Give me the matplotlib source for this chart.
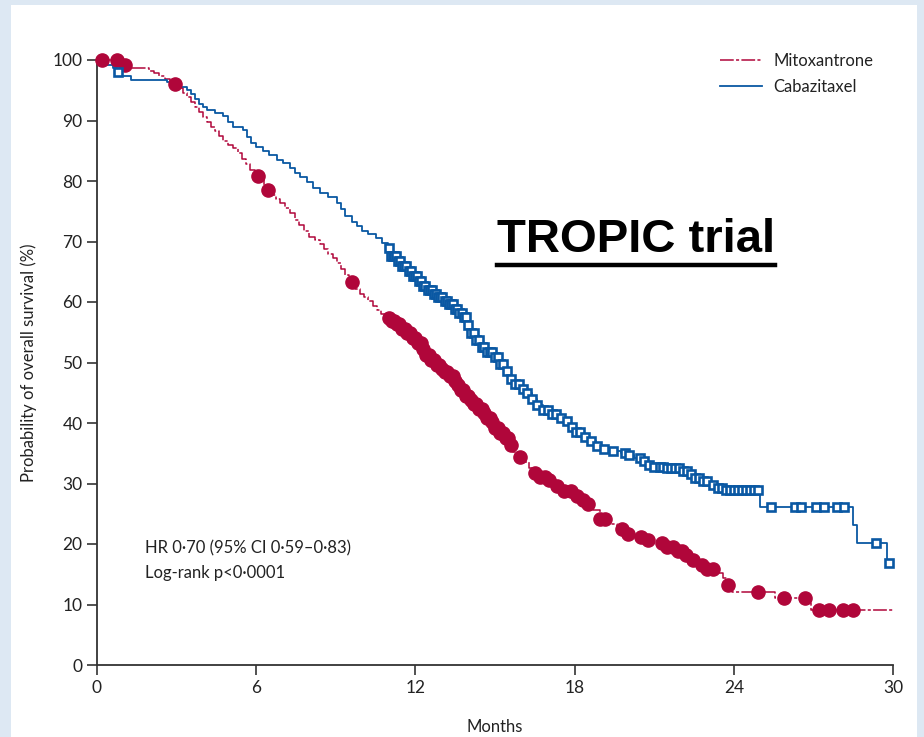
import numpy as np
import matplotlib
matplotlib.use('Agg')
import matplotlib.pyplot as plt
from matplotlib.patches import Rectangle
from matplotlib.lines import Line2D

# Kaplan-Meier steps (months, % surviving)
mito_t = [0, 1.0, 1.1, 1.95, 2.15, 2.35, 2.55, 2.75, 2.9, 3.1, 3.25, 3.4, 3.55, 3.7,
          3.85, 4.0, 4.15, 4.3, 4.45, 4.6, 4.75, 4.95, 5.13, 5.3, 5.45, 5.6, 5.77,
          5.95, 6.1, 6.3, 6.45, 6.6, 6.75, 6.9, 7.1, 7.27, 7.45, 7.6, 7.8, 8.0, 8.2,
          8.4, 8.55, 8.7, 8.9, 9.05, 9.2, 9.35, 9.5, 9.7, 9.9, 10.05, 10.2, 10.4,
          10.55, 10.7, 10.9, 11.05, 11.25, 11.45, 11.65, 11.85, 12.05, 12.25, 12.4,
          12.55, 12.75, 12.95, 13.1, 13.25, 13.42, 13.55, 13.7, 13.9, 14.05, 14.2,
          14.4, 14.55, 14.7, 14.85, 15.0, 15.2, 15.4, 15.55, 15.65, 15.9, 16.1, 16.3,
          16.5, 16.7, 17.0, 17.3, 17.6, 17.9, 18.2, 18.45, 18.7, 18.95, 19.3, 19.6,
          19.85, 20.2, 20.6, 21.0, 21.4, 21.8, 22.1, 22.35, 22.6, 22.95, 23.3, 23.6,
          23.75, 23.95, 25.55, 26.9, 30.0]
mito_s = [100, 99.2, 98.6, 98.2, 97.8, 97.4, 96.9, 96.4, 96.0, 95.3, 94.6, 93.9, 93.0, 92.2,
          91.4, 90.6, 89.8, 89.0, 88.3, 87.5, 86.6, 86.0, 85.4, 84.6, 83.7, 82.8, 81.8,
          80.9, 80.2, 79.2, 78.5, 77.7, 77.0, 76.3, 75.5, 74.7, 73.6, 72.7, 71.7, 70.8, 70.3,
          69.6, 68.8, 68.0, 67.2, 66.4, 65.4, 64.4, 63.3, 62.2, 61.4, 60.8, 60.1, 59.3,
          58.6, 58.0, 57.4, 56.9, 56.3, 55.6, 54.9, 54.1, 53.2, 52.2, 51.2,
          50.4, 49.6, 49.0, 48.4, 47.7, 47.0, 46.2, 45.4, 44.5, 43.8, 43.2,
          42.3, 41.6, 40.9, 40.1, 39.2, 38.3, 37.6, 36.3, 35.2, 34.4, 33.6, 32.6,
          31.8, 31.1, 30.5, 29.6, 28.8, 27.9, 27.3, 26.6, 25.6, 24.2, 23.3, 22.4,
          21.7, 21.1, 20.6, 20.1, 19.5, 18.8, 18.1, 17.3, 16.6, 15.8, 15.2, 14.4,
          13.3, 12.1, 11.0, 9.1, 9.1]

caba_t = [0, 0.35, 0.6, 0.75, 0.87, 1.3, 2.65, 2.8, 3.39, 3.55, 3.7, 3.85, 4.0, 4.15,
          4.45, 4.75, 4.95, 5.13, 5.5, 5.65, 5.8, 6.0, 6.26, 6.5, 6.78, 7.0, 7.27,
          7.45, 7.65, 7.9, 8.15, 8.4, 8.7, 9.05, 9.2, 9.35, 9.6, 9.8, 10.0, 10.2,
          10.5, 10.75, 10.95, 11.05, 11.3, 11.5, 11.7, 11.9, 12.1, 12.3, 12.45, 12.65,
          12.85, 13.05, 13.25, 13.45, 13.65, 13.8, 13.95, 14.1, 14.25, 14.45, 14.7,
          14.95, 15.15, 15.35, 15.55, 15.75, 16.0, 16.2, 16.4, 16.6, 16.8, 17.1,
          17.35, 17.6, 17.85, 18.05, 18.25, 18.5, 18.8, 19.1, 19.45, 19.75, 20.0,
          20.25, 20.5, 20.75, 21.0, 21.5, 22.0, 22.3, 22.55, 22.8, 23.05, 23.35,
          23.6, 24.99, 28.5, 28.65, 29.78, 30.0]
caba_s = [100, 99.2, 98.6, 98.0, 97.3, 96.7, 96.3, 95.6, 95.0, 94.3, 93.6, 92.8, 92.2, 91.7,
          91.2, 90.8, 89.8, 88.9, 88.4, 87.3, 86.3, 85.6, 84.9, 84.3, 83.5, 83.0, 82.2,
          81.4, 80.7, 79.8, 78.9, 78.0, 77.3, 76.4, 75.3, 74.2, 73.3, 72.5, 71.8, 71.2,
          70.5, 69.8, 69.0, 67.6, 66.7, 65.9, 65.2, 64.3, 63.4, 62.6, 62.0, 61.4,
          60.8, 60.2, 59.6, 58.9, 58.2, 57.5, 56.2, 54.9, 53.7, 52.6, 51.8,
          50.9, 49.8, 48.6, 47.3, 46.5, 45.7, 45.0, 44.0, 43.0, 42.2, 41.5,
          40.9, 40.4, 39.4, 38.5, 37.7, 37.0, 36.2, 35.7, 35.4, 35.1, 34.7,
          34.2, 33.8, 33.1, 32.7, 32.5, 32.1, 31.6, 30.9, 30.4, 29.8, 29.2,
          28.9, 26.1, 23.1, 20.2, 16.9, 16.9]

# censoring times
mito_cens = [0.2, 0.75, 1.05, 2.95, 6.05, 6.45, 9.6,
             11.0, 11.1, 11.2, 11.3, 11.4, 11.5, 11.6, 11.7, 11.8, 11.9, 12.0, 12.1,
             12.2, 12.3, 12.4, 12.5, 12.6, 12.7, 12.8, 12.9, 13.0, 13.1, 13.2, 13.3,
             13.4, 13.5, 13.6, 13.7, 13.8, 13.9, 14.0, 14.1, 14.2, 14.3, 14.4, 14.5,
             14.6, 14.7, 14.8, 14.9, 15.0, 15.1, 15.2, 15.3, 15.4, 15.5, 15.6,
             15.95, 16.5, 16.7, 16.9, 17.05, 17.35, 17.6, 17.85, 18.1, 18.3, 18.5,
             18.95, 19.15, 19.8, 20.0, 20.5, 20.75, 21.3, 21.5, 21.7, 21.9, 22.05,
             22.2, 22.45, 22.8, 23.0, 23.2, 23.8, 24.9, 25.9, 26.7, 27.2, 27.6, 28.1,
             28.5]
caba_cens = [0.8, 11.0, 11.07, 11.14, 11.21, 11.28, 11.35, 11.42, 11.5, 11.58, 11.66,
             11.74, 11.82, 11.9, 11.98, 12.06, 12.14, 12.22, 12.3, 12.38, 12.46, 12.54,
             12.62, 12.7, 12.78, 12.86, 12.94, 13.02, 13.1, 13.18, 13.26, 13.34, 13.42,
             13.5, 13.58, 13.66, 13.74, 13.82, 13.9, 14.0, 14.1, 14.2, 14.3, 14.4,
             14.5, 14.6, 14.7, 14.8, 14.9, 15.0, 15.1, 15.2, 15.3, 15.45, 15.6, 15.75,
             15.9, 16.05, 16.2, 16.4, 16.6, 16.8, 17.0, 17.15, 17.3, 17.5, 17.7, 17.9,
             18.05, 18.2, 18.4, 18.6, 18.85, 19.1, 19.45, 19.9, 20.05, 20.45, 20.6,
             20.8, 21.0, 21.2, 21.35, 21.5, 21.65, 21.8, 21.95, 22.1, 22.25, 22.4,
             22.55, 22.7, 22.85, 23.0, 23.2, 23.4, 23.55, 23.7, 23.85, 24.0, 24.15,
             24.3, 24.45, 24.6, 24.75, 24.9, 25.4, 26.3, 26.55, 27.1, 27.4, 27.9,
             28.15, 29.35, 29.85]

x_ticks = [0, 6, 12, 18, 24, 30]
y_ticks = [0, 10, 20, 30, 40, 50, 60, 70, 80, 90, 100]

RED = '#b0063a'
BLUE = '#0a58a3'
AXC = '#333333'
FONT = ['Lato', 'DejaVu Sans']
MITO_LS = (0, (9, 1.5, 2, 1.5))


def km_at(times, surv, t):
    idx = np.searchsorted(times, t, side='right') - 1
    return np.asarray(surv)[idx]


fig = plt.figure(figsize=(9.24, 7.37), dpi=100, facecolor='#dde8f3')
fig.patches.append(Rectangle((11 / 924, 0), 906 / 924, 1 - 5 / 737,
                             transform=fig.transFigure, facecolor='white',
                             edgecolor='none', zorder=-10))

ax = fig.add_axes([97 / 924, 1 - 665 / 737, 796 / 924, 605 / 737])
ax.set_facecolor('none')

ax.plot(mito_t, mito_s, drawstyle='steps-post', color=RED, lw=1.1,
        linestyle=MITO_LS, clip_on=False)
ax.plot(caba_t, caba_s, drawstyle='steps-post', color=BLUE, lw=1.3, clip_on=False)

ax.plot(mito_cens, km_at(mito_t, mito_s, mito_cens), 'o', color=RED, ms=9.5,
        mec=RED, clip_on=False, zorder=3)
ax.plot(caba_cens, km_at(caba_t, caba_s, caba_cens), 's', color=BLUE, ms=5.6,
        mfc='white', mec=BLUE, mew=1.9, clip_on=False, zorder=4)

ax.set_xlim(0, 30)
ax.set_ylim(0, 100)
ax.set_xticks(x_ticks)
ax.set_yticks(y_ticks)
for s in ['top', 'right']:
    ax.spines[s].set_visible(False)
for s in ['left', 'bottom']:
    ax.spines[s].set_color(AXC)
    ax.spines[s].set_linewidth(1.3)
ax.tick_params(length=7, width=1.2, color=AXC, labelcolor='#222222', labelsize=12.5)
for lab in ax.get_xticklabels() + ax.get_yticklabels():
    lab.set_family(FONT)

ax.set_xlabel('Months', fontsize=12, family=FONT, color='#222222', labelpad=17)
ax.set_ylabel('Probability of overall survival (%)', fontsize=12, family=FONT,
              color='#222222', labelpad=11)

ax.text(0.06, 0.172, 'HR 0·70 (95% CI 0·59–0·83)\nLog-rank p<0·0001',
        transform=ax.transAxes, fontsize=12, family=FONT, color='#222222',
        linespacing=1.65, va='center')

handles = [Line2D([], [], color=RED, lw=1.1, linestyle=MITO_LS),
           Line2D([], [], color=BLUE, lw=1.3)]
fig.legend(handles, ['Mitoxantrone', 'Cabazitaxel'], loc='upper left',
           bbox_to_anchor=(705 / 924, 1 - 38 / 737), frameon=False,
           prop={'family': FONT, 'size': 12}, handlelength=2.5,
           handletextpad=0.7, labelspacing=0.6, labelcolor='#222222')

title = fig.text(497 / 924, 1 - 240 / 737, 'TROPIC trial', fontsize=34,
                 fontweight='bold', family='Liberation Sans', color='black',
                 va='center', ha='left')
fig.canvas.draw()
bb = title.get_window_extent().transformed(fig.transFigure.inverted())
fig.add_artist(Line2D([bb.x0, bb.x1], [1 - 265 / 737] * 2, color='black',
                      lw=3.2, transform=fig.transFigure))

fig.savefig('out.png', dpi=100, facecolor=fig.get_facecolor())
